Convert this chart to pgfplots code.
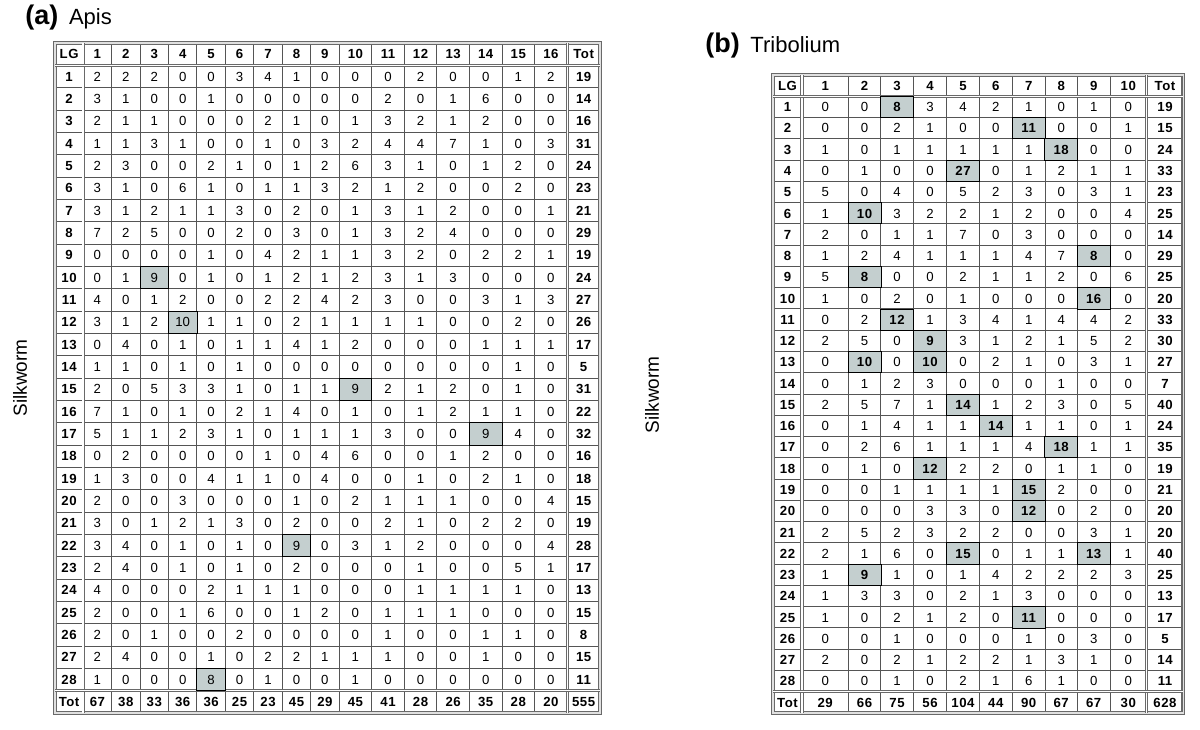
\documentclass[border=0pt]{standalone}
\usepackage{pgfplots}
\pgfplotsset{compat=1.18}
\usepackage{pgfplotstable}
\usepackage{fontspec}
\setmainfont{Liberation Sans}
\newfontfamily\bls[LetterSpace=4]{Liberation Sans}
\definecolor{hl}{RGB}{196,207,207}
\definecolor{gridc}{RGB}{85,85,85}
\definecolor{framec}{RGB}{105,105,105}
\newcommand{\tfont}{\fontsize{6.6}{7.5}\selectfont}

% Apis: LG, columns 1..16, Tot
\pgfplotstableread{
LG c1 c2 c3 c4 c5 c6 c7 c8 c9 c10 c11 c12 c13 c14 c15 c16 Tot
1  2 2 2 0 0 3 4 1 0 0 0 2 0 0 1 2 19
2  3 1 0 0 1 0 0 0 0 0 2 0 1 6 0 0 14
3  2 1 1 0 0 0 2 1 0 1 3 2 1 2 0 0 16
4  1 1 3 1 0 0 1 0 3 2 4 4 7 1 0 3 31
5  2 3 0 0 2 1 0 1 2 6 3 1 0 1 2 0 24
6  3 1 0 6 1 0 1 1 3 2 1 2 0 0 2 0 23
7  3 1 2 1 1 3 0 2 0 1 3 1 2 0 0 1 21
8  7 2 5 0 0 2 0 3 0 1 3 2 4 0 0 0 29
9  0 0 0 0 1 0 4 2 1 1 3 2 0 2 2 1 19
10 0 1 9 0 1 0 1 2 1 2 3 1 3 0 0 0 24
11 4 0 1 2 0 0 2 2 4 2 3 0 0 3 1 3 27
12 3 1 2 10 1 1 0 2 1 1 1 1 0 0 2 0 26
13 0 4 0 1 0 1 1 4 1 2 0 0 0 1 1 1 17
14 1 1 0 1 0 1 0 0 0 0 0 0 0 0 1 0 5
15 2 0 5 3 3 1 0 1 1 9 2 1 2 0 1 0 31
16 7 1 0 1 0 2 1 4 0 1 0 1 2 1 1 0 22
17 5 1 1 2 3 1 0 1 1 1 3 0 0 9 4 0 32
18 0 2 0 0 0 0 1 0 4 6 0 0 1 2 0 0 16
19 1 3 0 0 4 1 1 0 4 0 0 1 0 2 1 0 18
20 2 0 0 3 0 0 0 1 0 2 1 1 1 0 0 4 15
21 3 0 1 2 1 3 0 2 0 0 2 1 0 2 2 0 19
22 3 4 0 1 0 1 0 9 0 3 1 2 0 0 0 4 28
23 2 4 0 1 0 1 0 2 0 0 0 1 0 0 5 1 17
24 4 0 0 0 2 1 1 1 0 0 0 1 1 1 1 0 13
25 2 0 0 1 6 0 0 1 2 0 1 1 1 0 0 0 15
26 2 0 1 0 0 2 0 0 0 0 1 0 0 1 1 0 8
27 2 4 0 0 1 0 2 2 1 1 1 0 0 1 0 0 15
28 1 0 0 0 8 0 1 0 0 1 0 0 0 0 0 0 11
}\apis

% Tribolium: LG, columns 1..10, Tot
\pgfplotstableread{
LG c1 c2 c3 c4 c5 c6 c7 c8 c9 c10 Tot
1  0 0 8 3 4 2 1 0 1 0 19
2  0 0 2 1 0 0 11 0 0 1 15
3  1 0 1 1 1 1 1 18 0 0 24
4  0 1 0 0 27 0 1 2 1 1 33
5  5 0 4 0 5 2 3 0 3 1 23
6  1 10 3 2 2 1 2 0 0 4 25
7  2 0 1 1 7 0 3 0 0 0 14
8  1 2 4 1 1 1 4 7 8 0 29
9  5 8 0 0 2 1 1 2 0 6 25
10 1 0 2 0 1 0 0 0 16 0 20
11 0 2 12 1 3 4 1 4 4 2 33
12 2 5 0 9 3 1 2 1 5 2 30
13 0 10 0 10 0 2 1 0 3 1 27
14 0 1 2 3 0 0 0 1 0 0 7
15 2 5 7 1 14 1 2 3 0 5 40
16 0 1 4 1 1 14 1 1 0 1 24
17 0 2 6 1 1 1 4 18 1 1 35
18 0 1 0 12 2 2 0 1 1 0 19
19 0 0 1 1 1 1 15 2 0 0 21
20 0 0 0 3 3 0 12 0 2 0 20
21 2 5 2 3 2 2 0 0 3 1 20
22 2 1 6 0 15 0 1 1 13 1 40
23 1 9 1 0 1 4 2 2 2 3 25
24 1 3 3 0 2 1 3 0 0 0 13
25 1 0 2 1 2 0 11 0 0 0 17
26 0 0 1 0 0 0 1 0 3 0 5
27 2 0 2 1 2 2 1 3 1 0 14
28 0 0 1 0 2 1 6 1 0 0 11
}\trib

\pgfplotsset{
  tbl/.style={
    scale only axis, anchor=north west,
    y dir=reverse, ymin=-0.5, ymax=29.5,
    axis on top, clip=false,
    ytick={1.5,2.5,...,27.5},
    extra y ticks={0.5,28.5},
    xticklabels={}, yticklabels={},
    extra x tick labels={}, extra y tick labels={},
    major tick length=0pt,
    xmajorgrids, ymajorgrids,
    grid style={gridc, line width=0.45pt},
    extra tick style={major tick length=0pt,
      grid style={draw=framec, double=white, double distance=0.7pt, line width=0.45pt}},
    axis line style={draw=framec, double=white!88!black, double distance=0.8pt, line width=0.55pt},
  },
  body/.style={only marks, mark=none, nodes near coords, point meta=explicit symbolic,
    nodes near coords align={center},
    every node near coord/.append style={font=\tfont, inner sep=0pt, text=black,
      text height=4.8pt, text depth=0pt}},
  bodyb/.style={body, every node near coord/.append style={font=\tfont\bls\bfseries}},
}

\begin{document}
\begin{tikzpicture}
\path[use as bounding box] (0,0) rectangle (600pt,364.5pt);

% ---------------- (a) Apis ----------------
\begin{axis}[tbl, at={(27.5pt,343pt)}, width=272.5pt, height=335pt,
  xmin=55, xmax=600,
  xtick={111.6,140.0,168.5,196.9,225.4,253.8,282.3,310.7,339.1,371.7,404.3,436.9,469.4,502.0,534.6},
  extra x ticks={83.2,567.2}]
% highlighted cells
\addplot[only marks, mark=square*, mark size=7.15pt,
  mark options={draw=none, fill=hl, yscale=0.781}]
  coordinates {(154.25,10) (182.7,12) (296.5,22) (211.15,28)};
\addplot[only marks, mark=square*, mark size=8.2pt,
  mark options={draw=none, fill=hl, yscale=0.681}]
  coordinates {(355.4,15) (485.7,17)};
% header row
\addplot[bodyb] coordinates {(69.1,0)[LG] (97.4,0)[1] (125.8,0)[2] (154.25,0)[3]
  (182.7,0)[4] (211.15,0)[5] (239.6,0)[6] (268.05,0)[7] (296.5,0)[8] (324.9,0)[9]
  (355.4,0)[10] (388,0)[11] (420.6,0)[12] (453.15,0)[13] (485.7,0)[14] (518.3,0)[15]
  (550.9,0)[16] (583.6,0)[Tot]};
% LG column and body
\addplot[bodyb] table[x expr=69.1, y=LG, meta=LG]{\apis};
\addplot[body] table[x expr=97.4, y=LG, meta=c1]{\apis};
\addplot[body] table[x expr=125.8, y=LG, meta=c2]{\apis};
\addplot[body] table[x expr=154.25, y=LG, meta=c3]{\apis};
\addplot[body] table[x expr=182.7, y=LG, meta=c4]{\apis};
\addplot[body] table[x expr=211.15, y=LG, meta=c5]{\apis};
\addplot[body] table[x expr=239.6, y=LG, meta=c6]{\apis};
\addplot[body] table[x expr=268.05, y=LG, meta=c7]{\apis};
\addplot[body] table[x expr=296.5, y=LG, meta=c8]{\apis};
\addplot[body] table[x expr=324.9, y=LG, meta=c9]{\apis};
\addplot[body] table[x expr=355.4, y=LG, meta=c10]{\apis};
\addplot[body] table[x expr=388, y=LG, meta=c11]{\apis};
\addplot[body] table[x expr=420.6, y=LG, meta=c12]{\apis};
\addplot[body] table[x expr=453.15, y=LG, meta=c13]{\apis};
\addplot[body] table[x expr=485.7, y=LG, meta=c14]{\apis};
\addplot[body] table[x expr=518.3, y=LG, meta=c15]{\apis};
\addplot[body] table[x expr=550.9, y=LG, meta=c16]{\apis};
\addplot[bodyb] table[x expr=583.6, y=LG, meta=Tot]{\apis};
% total row
\addplot[bodyb] coordinates {(69.1,29)[Tot] (97.4,29)[67] (125.8,29)[38] (154.25,29)[33]
  (182.7,29)[36] (211.15,29)[36] (239.6,29)[25] (268.05,29)[23] (296.5,29)[45] (324.9,29)[29]
  (355.4,29)[45] (388,29)[41] (420.6,29)[28] (453.15,29)[26] (485.7,29)[35] (518.3,29)[28]
  (550.9,29)[20] (583.6,29)[555]};
\end{axis}

% ---------------- (b) Tribolium ----------------
\begin{axis}[tbl, at={(386.5pt,327pt)}, width=205.15pt, height=319pt,
  xmin=773, xmax=1183.3,
  xtick={848.3,880.7,913.3,946.7,979.3,1012.3,1045,1077.3,1110},
  extra x ticks={802,1146.7}]
\addplot[only marks, mark=square*, mark size=8.2pt,
  mark options={draw=none, fill=hl, yscale=0.648}]
  coordinates {(897,1) (1028.7,2) (1061.2,3) (963,4) (864.5,6) (1093.7,8) (864.5,9)
  (1093.7,10) (897,11) (930,12) (864.5,13) (930,13) (963,15) (995.8,16) (1061.2,17)
  (930,18) (1028.7,19) (1028.7,20) (963,22) (1093.7,22) (864.5,23) (1028.7,25)};
\addplot[bodyb] coordinates {(787.5,0)[LG] (825.2,0)[1] (864.5,0)[2] (897,0)[3] (930,0)[4]
  (963,0)[5] (995.8,0)[6] (1028.7,0)[7] (1061.2,0)[8] (1093.7,0)[9] (1128.3,0)[10] (1165,0)[Tot]};
\addplot[bodyb] table[x expr=787.5, y=LG, meta=LG]{\trib};
\addplot[body] table[x expr=825.2, y=LG, meta=c1]{\trib};
\addplot[body] table[x expr=864.5, y=LG, meta=c2]{\trib};
\addplot[body] table[x expr=897, y=LG, meta=c3]{\trib};
\addplot[body] table[x expr=930, y=LG, meta=c4]{\trib};
\addplot[body] table[x expr=963, y=LG, meta=c5]{\trib};
\addplot[body] table[x expr=995.8, y=LG, meta=c6]{\trib};
\addplot[body] table[x expr=1028.7, y=LG, meta=c7]{\trib};
\addplot[body] table[x expr=1061.2, y=LG, meta=c8]{\trib};
\addplot[body] table[x expr=1093.7, y=LG, meta=c9]{\trib};
\addplot[body] table[x expr=1128.3, y=LG, meta=c10]{\trib};
\addplot[bodyb] table[x expr=1165, y=LG, meta=Tot]{\trib};
% highlighted values in bold
\addplot[bodyb, every node near coord/.append style={fill=hl, inner sep=0.6pt}]
  coordinates {(897,1)[8] (1028.7,2)[11] (1061.2,3)[18] (963,4)[27] (864.5,6)[10]
  (1093.7,8)[8] (864.5,9)[8] (1093.7,10)[16] (897,11)[12] (930,12)[9] (864.5,13)[10]
  (930,13)[10] (963,15)[14] (995.8,16)[14] (1061.2,17)[18] (930,18)[12] (1028.7,19)[15]
  (1028.7,20)[12] (963,22)[15] (1093.7,22)[13] (864.5,23)[9] (1028.7,25)[11]};
\addplot[bodyb] coordinates {(787.5,29)[Tot] (825.2,29)[29] (864.5,29)[66] (897,29)[75]
  (930,29)[56] (963,29)[104] (995.8,29)[44] (1028.7,29)[90] (1061.2,29)[67] (1093.7,29)[67]
  (1128.3,29)[30] (1165,29)[628]};
\end{axis}

% titles and row labels
\node[anchor=base west, inner sep=0pt] at (12.5pt,352pt)
  {\fontsize{13.5}{15}\selectfont\bfseries (a)\,\mdseries\fontsize{11}{13}\selectfont\ Apis};
\node[anchor=base west, inner sep=0pt] at (352.5pt,338pt)
  {\fontsize{13.5}{15}\selectfont\bfseries (b)\,\mdseries\fontsize{11}{13}\selectfont\ Tribolium};
\node[rotate=90, inner sep=0pt, font=\fontsize{9.5}{11}\selectfont] at (10pt,175.5pt) {Silkworm};
\node[rotate=90, inner sep=0pt, font=\fontsize{9.5}{11}\selectfont] at (326pt,167pt) {Silkworm};
\end{tikzpicture}
\end{document}
